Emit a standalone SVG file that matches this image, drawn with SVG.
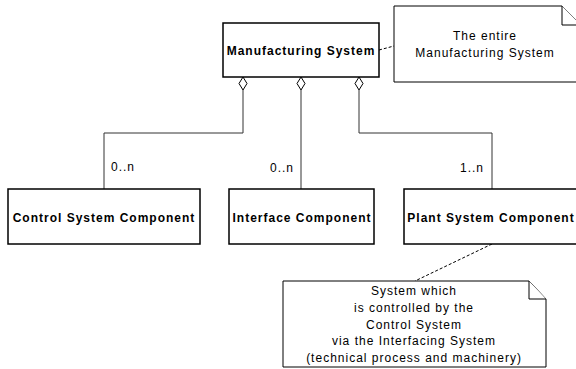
<svg xmlns="http://www.w3.org/2000/svg" width="576" height="369" viewBox="0 0 576 369">
<style>
.box{fill:#fff;stroke:#000;stroke-width:1.5}
.note{fill:#fff;stroke:#000;stroke-width:1}
.b{font-family:"Liberation Sans",Arial,sans-serif;font-size:12px;font-weight:bold;letter-spacing:1px;fill:#000}
.t{font-family:"Liberation Sans",Arial,sans-serif;font-size:12px;letter-spacing:1px;fill:#000}
.c{fill:none;stroke:#333;stroke-width:1}
.d{fill:none;stroke:#000;stroke-width:1;stroke-dasharray:3,2}
.dia{fill:#fff;stroke:#000;stroke-width:1}
</style>
<rect width="576" height="369" fill="#fff"/>
<g id="connectors">
<path class="c" d="M243 90V133H104V189"/>
<path class="c" d="M301 90V189"/>
<path class="c" d="M359 90V133H492V189"/>
<path class="dia" d="M243 77L247 83.5L243 90L239 83.5Z"/>
<path class="dia" d="M301 77L305 83.5L301 90L297 83.5Z"/>
<path class="dia" d="M359 77L363 83.5L359 90L355 83.5Z"/>
<text class="t" x="111" y="171">0..n</text>
<text class="t" x="294" y="172" text-anchor="end">0..n</text>
<text class="t" x="484" y="172" text-anchor="end">1..n</text>
<path class="d" d="M379 50L394 46"/>
<path class="d" d="M492 244L415 281"/>
</g>
<g id="manufacturing-system">
<rect class="box" x="223" y="23" width="156" height="54"/>
<text class="b" x="301" y="55" text-anchor="middle">Manufacturing System</text>
</g>
<g id="note-entire">
<path class="note" d="M394 6H562L581 25V82H394Z"/>
<path class="note" d="M562 6V25H581"/>
<text class="t" x="485" y="40" text-anchor="middle">The entire</text>
<text class="t" x="485" y="57" text-anchor="middle">Manufacturing System</text>
</g>
<g id="control-system-component">
<rect class="box" x="8" y="189" width="192" height="55"/>
<text class="b" x="104" y="222" text-anchor="middle">Control System Component</text>
</g>
<g id="interface-component">
<rect class="box" x="229" y="189" width="145" height="55"/>
<text class="b" x="302" y="222" text-anchor="middle">Interface Component</text>
</g>
<g id="plant-system-component">
<rect class="box" x="404" y="189" width="176" height="55"/>
<text class="b" x="491" y="222" text-anchor="middle">Plant System Component</text>
</g>
<g id="note-plant">
<path class="note" d="M283 281H529L546 299V367H283Z"/>
<path class="note" d="M529 281V299H546"/>
<text class="t" x="414" y="295" text-anchor="middle">System which</text>
<text class="t" x="414" y="312" text-anchor="middle">is controlled by the</text>
<text class="t" x="414" y="328.5" text-anchor="middle">Control System</text>
<text class="t" x="414" y="345" text-anchor="middle">via the Interfacing System</text>
<text class="t" x="414" y="362" text-anchor="middle">(technical process and machinery)</text>
</g>
</svg>
